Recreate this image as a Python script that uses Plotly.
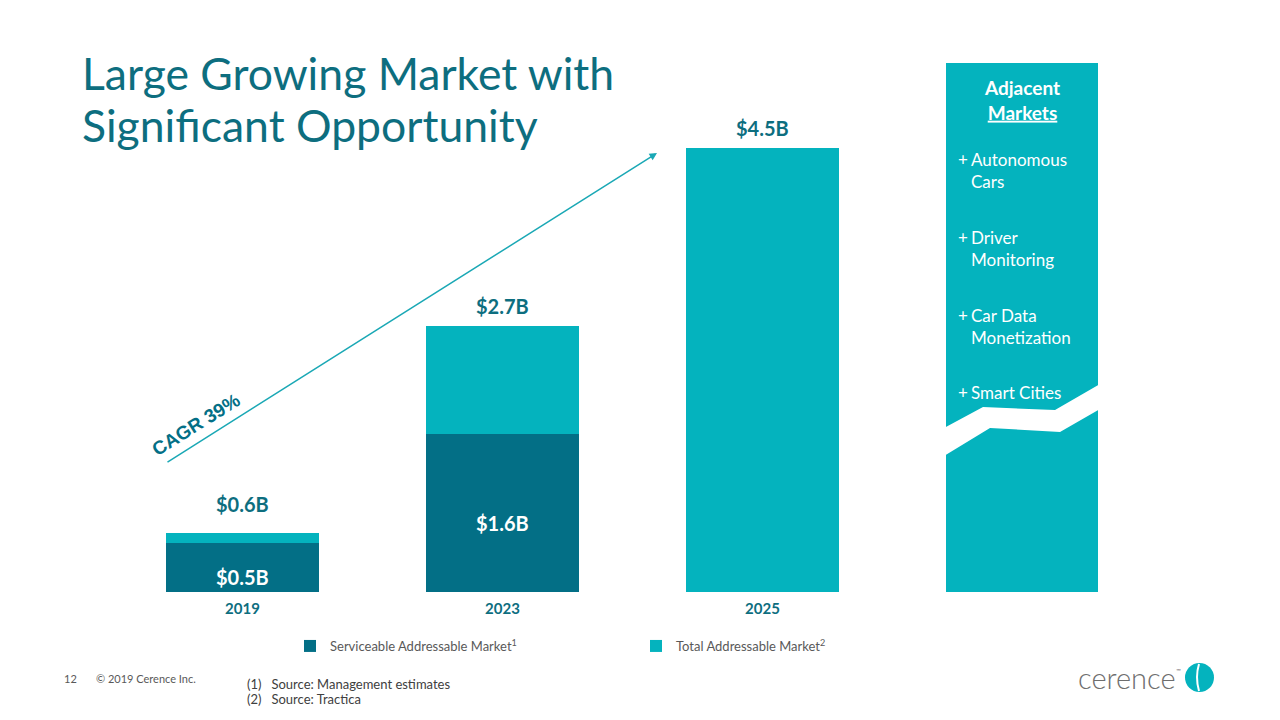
import plotly.graph_objects as go

# ---- data ----
years = ["2019", "2023", "2025"]
sam_values = [0.5, 1.6, 0.0]          # Serviceable Addressable Market ($B)
tam_totals = [0.6, 2.7, 4.5]          # Total Addressable Market ($B)
sam_labels = ["$0.5B", "$1.6B", ""]
tam_labels = ["$0.6B", "$2.7B", "$4.5B"]
adjacent_markets = ["Autonomous<br>Cars", "Driver<br>Monitoring", "Car Data<br>Monetization", "Smart Cities"]
cagr_text = "CAGR 39%"
title_lines = ["Large Growing Market with", "Significant Opportunity"]
footnotes = ["(1)   Source: Management estimates", "(2)   Source: Tractica"]

DARK = "#036F86"
LIGHT = "#04B3BE"
TITLE = "#0D6E7F"
GRAY = "#595959"
FONT = "Lato"

OFF = 8                     # page body margin
W, H = 1280 - 2 * OFF, 720 - 2 * OFF
def px(x):
    return (x - OFF) / W
def py(y):
    return 1 - (y - OFF) / H

tam_increment = [t - s for t, s in zip(tam_totals, sam_values)]

fig = go.Figure()
fig.add_trace(go.Bar(
    x=years, y=sam_values, name="Serviceable Addressable Market<sup>1</sup>",
    marker=dict(color=DARK, line=dict(width=0)), hoverinfo="skip"))
fig.add_trace(go.Bar(
    x=years, y=tam_increment, name="Total Addressable Market<sup>2</sup>",
    marker=dict(color=LIGHT, line=dict(width=0)), hoverinfo="skip"))

annotations = []
# total labels above bars
for i, (tot, lab) in enumerate(zip(tam_totals, tam_labels)):
    annotations.append(dict(x=i, y=tot, xref="x", yref="y", text=f"<b>{lab}</b>",
                            showarrow=False, xanchor="center", yanchor="bottom",
                            yshift=6 if tot > 1 else 15,
                            font=dict(family=FONT, size=20, color=TITLE)))
# SAM labels inside
for i, (s, lab) in enumerate(zip(sam_values, sam_labels)):
    if lab:
        annotations.append(dict(x=i, y=s / 2 - 0.1, xref="x", yref="y", text=f"<b>{lab}</b>",
                                showarrow=False, xanchor="center", yanchor="middle",
                                font=dict(family=FONT, size=20, color="white")))

# Title
for yy, line in zip([73, 124], title_lines):
    annotations.append(dict(x=px(80), y=py(yy), xref="paper", yref="paper", xanchor="left",
                            yanchor="middle", text=line, showarrow=False,
                            font=dict(family=FONT, size=44.5, color=TITLE)))

# CAGR arrow
annotations.append(dict(x=px(657), y=py(153), ax=166 - 657, ay=463 - 153, xref="paper", yref="paper",
                        axref="pixel", ayref="pixel", text="", showarrow=True, arrowhead=2,
                        arrowsize=1, arrowwidth=1.5, arrowcolor="#1AA8B5"))
annotations.append(dict(x=px(196), y=py(424), xref="paper", yref="paper", text=f"<b>{cagr_text}</b>",
                        textangle=-32, showarrow=False, xanchor="center", yanchor="middle",
                        font=dict(family="Liberation Sans", size=19, color=DARK)))

# Adjacent markets panel text
annotations.append(dict(x=px(1022), y=py(99.5), xref="paper", yref="paper",
                        text="<b>Adjacent</b><br><b><u>Markets</u></b>", showarrow=False,
                        xanchor="center", yanchor="middle",
                        font=dict(family=FONT, size=19, color="white"), align="center"))
item_y = [159, 237, 315, 392]
for yy, item in zip(item_y, adjacent_markets):
    annotations.append(dict(x=px(956), y=py(yy - 12), xref="paper", yref="paper", xanchor="left",
                            yanchor="top", text="+", showarrow=False,
                            font=dict(family=FONT, size=17, color="white")))
    annotations.append(dict(x=px(969), y=py(yy - 12), xref="paper", yref="paper", xanchor="left",
                            yanchor="top", text=item, align="left", showarrow=False,
                            font=dict(family=FONT, size=17, color="white")))

# footer
annotations.append(dict(x=px(62), y=py(678), xref="paper", yref="paper", xanchor="left",
                        yanchor="middle", text="12", showarrow=False,
                        font=dict(family=FONT, size=11, color=GRAY)))
annotations.append(dict(x=px(94), y=py(678), xref="paper", yref="paper", xanchor="left",
                        yanchor="middle", text="© 2019 Cerence Inc.", showarrow=False,
                        font=dict(family=FONT, size=11, color=GRAY)))
for yy, note in zip([684, 699], footnotes):
    annotations.append(dict(x=px(245), y=py(yy), xref="paper", yref="paper", xanchor="left",
                            yanchor="middle", text=note, showarrow=False,
                            font=dict(family=FONT, size=13, color="#404040")))
# logo text
annotations.append(dict(x=px(1127), y=py(677), xref="paper", yref="paper", xanchor="center",
                        yanchor="middle", text="cerence", showarrow=False,
                        font=dict(family="Lato Light, Lato", size=29, color="#6E6E6E")))
annotations.append(dict(x=px(1178), y=py(670), xref="paper", yref="paper", xanchor="center",
                        yanchor="middle", text="™", showarrow=False,
                        font=dict(family=FONT, size=6, color="#6E6E6E")))

shapes = [
    # adjacent markets panel
    dict(type="rect", xref="paper", yref="paper", x0=px(946), x1=px(1098), y0=py(592), y1=py(63),
         fillcolor=LIGHT, line=dict(width=0), layer="below"),
    # white break
    dict(type="path", xref="paper", yref="paper",
         path=(f"M {px(944)} {py(428)} L {px(983)} {py(407)} L {px(1055)} {py(410)} L {px(1100)} {py(384)} "
               f"L {px(1100)} {py(409)} L {px(1060)} {py(432)} L {px(990)} {py(428)} L {px(944)} {py(456)} Z"),
         fillcolor="white", line=dict(width=0)),
    # logo circle
    dict(type="circle", xref="paper", yref="paper", x0=px(1185), x1=px(1214), y0=py(692), y1=py(663),
         fillcolor=LIGHT, line=dict(width=0)),
    dict(type="path", xref="paper", yref="paper",
         path=f"M {px(1199)} {py(664)} Q {px(1195)} {py(677)} {px(1199)} {py(691)}",
         line=dict(color="white", width=2)),
]

fig.update_layout(
    width=W, height=H,
    barmode="stack", bargap=0.412,
    paper_bgcolor="white", plot_bgcolor="white",
    margin=dict(l=0, r=0, t=0, b=0),
    xaxis=dict(domain=[px(112.5), px(1152.5)], range=[-0.5, 3.5], type="category",
               categoryorder="array", categoryarray=years,
               showgrid=False, zeroline=False, showline=False, ticks="",
               ticklabelstandoff=6,
               tickfont=dict(family=FONT, size=15, color=TITLE)),
    yaxis=dict(domain=[py(592), py(59)], range=[0, 5.4], visible=False, showgrid=False),
    showlegend=True,
    legend=dict(orientation="h", x=px(290), y=py(646), xanchor="left", yanchor="middle",
                entrywidth=301, entrywidthmode="pixels", traceorder="normal",
                font=dict(family=FONT, size=13, color=GRAY), bgcolor="rgba(0,0,0,0)"),
    annotations=annotations,
    shapes=shapes,
)
fig.update_xaxes(tickvals=years, ticktext=[f"<b>{y}</b>" for y in years])

fig.write_html("out.html")
